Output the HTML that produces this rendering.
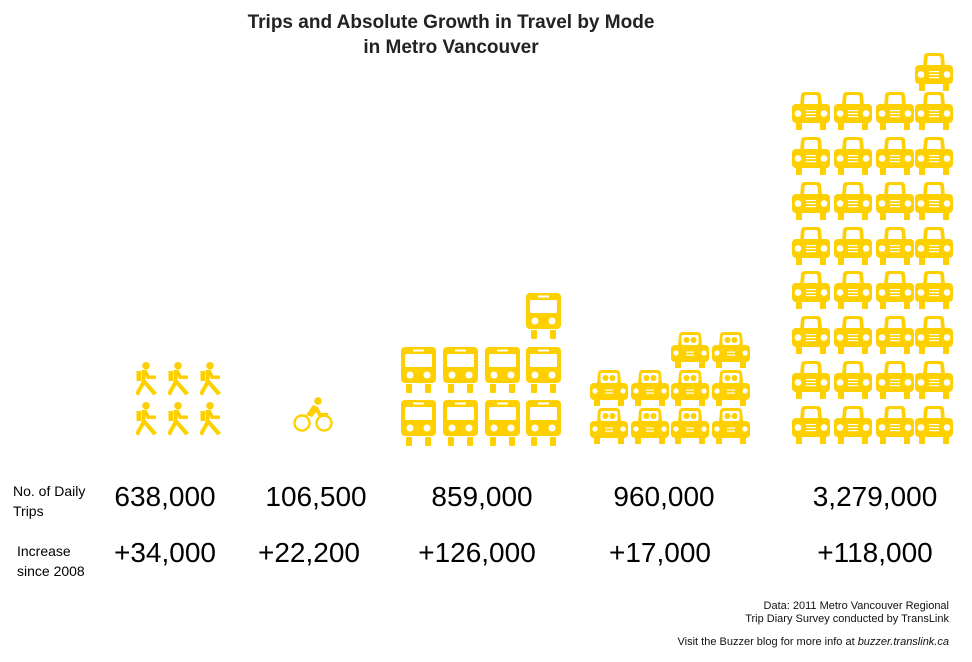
<!DOCTYPE html>
<html><head><meta charset="utf-8"><style>
html,body{margin:0;padding:0;background:#fff;}
body{width:972px;height:662px;position:relative;overflow:hidden;font-family:"Liberation Sans",sans-serif;}
.t{position:absolute;white-space:nowrap;}
.title{left:0;width:900px;text-align:center;font-size:19px;font-weight:bold;color:#222;}
.num{font-size:28px;color:#000;transform:translateX(-50%);}
.lbl{font-size:14px;color:#000;line-height:20px;}
.note{font-size:11px;color:#111;right:23px;text-align:right;line-height:13px;}
svg{position:absolute;left:0;top:0;}
</style></head><body>
<svg width="972" height="662" viewBox="0 0 972 662">
<defs>
<symbol id="car" viewBox="0 0 38 38">
<path d="M8 14 L9 3 Q9.5 0 13 0 L25 0 Q28.5 0 29 3 L30 14 Z" fill="#FFD000"/>
<path d="M12 12 L12.5 5 Q12.8 3 14.5 3 L23.5 3 Q25.2 3 25.5 5 L26 12 Z" fill="#fff"/>
<rect x="0" y="12" width="38" height="19" rx="4" fill="#FFD000"/>
<circle cx="6" cy="21.5" r="3.3" fill="#fff"/><circle cx="32" cy="21.5" r="3.3" fill="#fff"/>
<rect x="14" y="18" width="10" height="1.2" fill="#fff"/><rect x="14" y="21" width="10" height="1.2" fill="#fff"/><rect x="14" y="24" width="10" height="1.2" fill="#fff"/>
<rect x="4" y="31" width="6" height="7" fill="#FFD000"/><rect x="28" y="31" width="6" height="7" fill="#FFD000"/>
</symbol>
<symbol id="pcar" viewBox="0 0 38 36">
<path d="M7 13 L8 3 Q8.5 0 12 0 L26 0 Q29.5 0 30 3 L31 13 Z" fill="#FFD000"/>
<rect x="10.5" y="3" width="17" height="10" rx="2" fill="#fff"/>
<circle cx="15.5" cy="8" r="3" fill="#FFD000"/><circle cx="22.5" cy="8" r="3" fill="#FFD000"/>
<rect x="0" y="13" width="38" height="17" rx="4" fill="#FFD000"/>
<circle cx="5" cy="21" r="2.6" fill="#fff"/><circle cx="33" cy="21" r="2.6" fill="#fff"/>
<rect x="15" y="19.5" width="8" height="1.2" fill="#fff"/><rect x="15" y="22.5" width="8" height="1.2" fill="#fff"/>
<rect x="4" y="30" width="6" height="6" fill="#FFD000"/><rect x="28" y="30" width="6" height="6" fill="#FFD000"/>
</symbol>
<symbol id="bus" viewBox="0 0 35 46">
<rect x="0" y="0" width="35" height="36" rx="4" fill="#FFD000"/>
<rect x="12" y="2.5" width="11" height="2" fill="#fff"/>
<rect x="4" y="7" width="27" height="13" rx="1.5" fill="#fff"/>
<circle cx="9" cy="28" r="3.5" fill="#fff"/><circle cx="26" cy="28" r="3.5" fill="#fff"/>
<rect x="5" y="37" width="6" height="9" rx="1" fill="#FFD000"/><rect x="24" y="37" width="6" height="9" rx="1" fill="#FFD000"/>
</symbol>
<symbol id="walk" viewBox="0 0 22 34">
<circle cx="10" cy="3.8" r="3.8" fill="#FFD000"/>
<rect x="0.5" y="9" width="4.5" height="10" fill="#FFD000"/>
<path d="M5.5 8 L10.5 8 L13.5 13.5 L20 13.5 L20 17 L11 17 L9.5 14 L9.5 21 L5.5 21 Z" fill="#FFD000"/>
<path d="M6 19 L10.5 19 L2.5 33.5 L-1 31.5 Z" fill="#FFD000"/>
<path d="M6.5 20.5 L10 18.5 L21 31 L17.5 33.5 Z" fill="#FFD000"/>
</symbol>
</defs>
<g>
<use href="#walk" x="136" y="362" width="22" height="34"/><use href="#walk" x="168" y="362" width="22" height="34"/><use href="#walk" x="200" y="362" width="22" height="34"/>
<use href="#walk" x="136" y="402" width="22" height="34"/><use href="#walk" x="168" y="402" width="22" height="34"/><use href="#walk" x="200" y="402" width="22" height="34"/>
</g>
<g fill="none" stroke="#FFD000" stroke-width="2.4">
<circle cx="302" cy="423" r="7.5"/><circle cx="324" cy="423" r="7.5"/>
</g>
<circle cx="318" cy="401" r="3.8" fill="#FFD000"/>
<path d="M306 415 L313 405 L318 407 L321 413 L328 413 L328 417 L319 417 L316 412 L312 417 Z" fill="#FFD000"/>
<g>
<use href="#bus" x="526" y="293" width="35" height="46"/>
<use href="#bus" x="401" y="347" width="35" height="46"/><use href="#bus" x="443" y="347" width="35" height="46"/><use href="#bus" x="485" y="347" width="35" height="46"/><use href="#bus" x="526" y="347" width="35" height="46"/>
<use href="#bus" x="401" y="400" width="35" height="46"/><use href="#bus" x="443" y="400" width="35" height="46"/><use href="#bus" x="485" y="400" width="35" height="46"/><use href="#bus" x="526" y="400" width="35" height="46"/>
</g>
<g>
<use href="#pcar" x="671" y="332" width="38" height="36"/><use href="#pcar" x="712" y="332" width="38" height="36"/>
<use href="#pcar" x="590" y="370" width="38" height="36"/><use href="#pcar" x="631" y="370" width="38" height="36"/><use href="#pcar" x="671" y="370" width="38" height="36"/><use href="#pcar" x="712" y="370" width="38" height="36"/>
<use href="#pcar" x="590" y="408" width="38" height="36"/><use href="#pcar" x="631" y="408" width="38" height="36"/><use href="#pcar" x="671" y="408" width="38" height="36"/><use href="#pcar" x="712" y="408" width="38" height="36"/>
</g>
<g id="cars">
<use href="#car" x="915" y="53" width="38" height="38"/>
</g>
</svg>
<div class="t title" style="top:12px;left:0;width:902px;">Trips and Absolute Growth in Travel by Mode</div>
<div class="t title" style="top:37px;left:0;width:902px;">in Metro Vancouver</div>
<div class="t lbl" style="left:13px;top:481px;">No. of Daily<br>Trips</div>
<div class="t lbl" style="left:17px;top:541px;">Increase<br>since 2008</div>
<div class="t num" style="left:165px;top:481px;">638,000</div>
<div class="t num" style="left:316px;top:481px;">106,500</div>
<div class="t num" style="left:482px;top:481px;">859,000</div>
<div class="t num" style="left:664px;top:481px;">960,000</div>
<div class="t num" style="left:875px;top:481px;">3,279,000</div>
<div class="t num" style="left:165px;top:537px;">+34,000</div>
<div class="t num" style="left:309px;top:537px;">+22,200</div>
<div class="t num" style="left:477px;top:537px;">+126,000</div>
<div class="t num" style="left:660px;top:537px;">+17,000</div>
<div class="t num" style="left:875px;top:537px;">+118,000</div>
<div class="t note" style="top:600px;">Data: 2011 Metro Vancouver Regional<br>Trip Diary Survey conducted by TransLink</div>
<div class="t note" style="top:636px;">Visit the Buzzer blog for more info at <i>buzzer.translink.ca</i></div>
<script>
var g=document.getElementById('cars'),xs=[792,834,876,915],ys=[92,137,182,227,271,316,361,406];
ys.forEach(function(y){xs.forEach(function(x){var u=document.createElementNS('http://www.w3.org/2000/svg','use');u.setAttribute('href','#car');u.setAttribute('x',x);u.setAttribute('y',y);u.setAttribute('width',38);u.setAttribute('height',38);g.appendChild(u);});});
</script>
</body></html>
